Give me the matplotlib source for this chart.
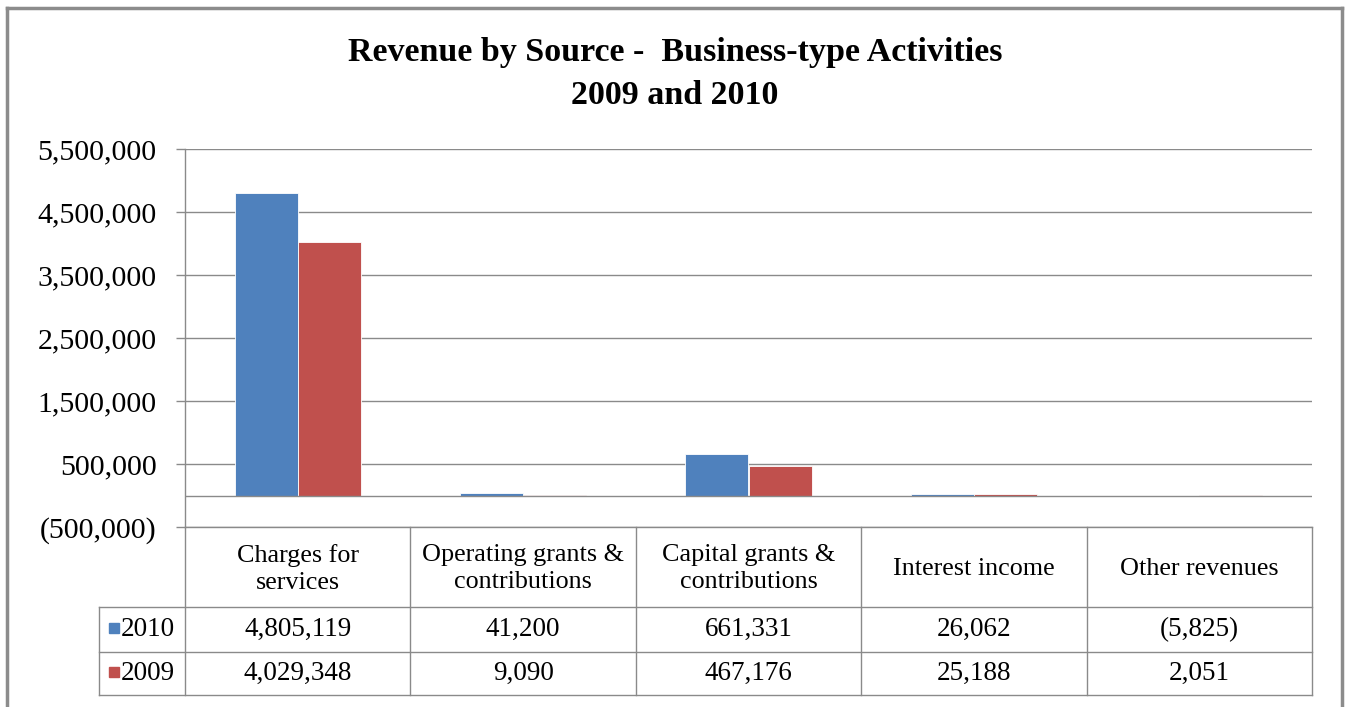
import numpy as np
import matplotlib.pyplot as plt
from matplotlib.lines import Line2D

# Revenue by source, business-type activities
categories = ['Charges for\nservices', 'Operating grants &\ncontributions',
              'Capital grants &\ncontributions', 'Interest income', 'Other revenues']
series_names = ['2010', '2009']
values_2010 = [4805119, 41200, 661331, 26062, -5825]
values_2009 = [4029348, 9090, 467176, 25188, 2051]
colors = ['#4F81BD', '#C0504D']
yticks = [-500000, 500000, 1500000, 2500000, 3500000, 4500000, 5500000]

plt.rcParams['font.family'] = ['Liberation Serif', 'DejaVu Serif']
grid_c = '#8a8a8a'

W, H = 1350, 707
fig = plt.figure(figsize=(W / 100, H / 100), dpi=100)


def fx(px):
    return px / W


def fy(py):
    return 1 - py / H


def fmt(v):
    return '({:,})'.format(-v) if v < 0 else '{:,}'.format(v)


# plot area in pixels: x 185..1312, y 149..527
ax = fig.add_axes([fx(185), fy(527), fx(1312 - 185), (527 - 149) / H])
x = np.arange(len(categories))
bw = 0.28
ax.bar(x - bw / 2, values_2010, bw, color=colors[0], edgecolor='white', linewidth=0.6)
ax.bar(x + bw / 2, values_2009, bw, color=colors[1], edgecolor='white', linewidth=0.6)
ax.set_xlim(-0.5, len(categories) - 0.5)
ax.set_ylim(-500000, 5500000)
ax.set_yticks(yticks)
ax.set_yticklabels([fmt(v) for v in yticks])
ax.set_xticks([])
ax.yaxis.grid(True, color=grid_c, linewidth=1)
ax.set_axisbelow(True)
ax.axhline(0, color=grid_c, linewidth=1, zorder=1)
ax.tick_params(axis='y', length=6.5, width=1, color=grid_c, pad=14, labelsize=21.5)
for s in ['top', 'right', 'bottom']:
    ax.spines[s].set_visible(False)
ax.spines['left'].set_color(grid_c)
ax.spines['left'].set_linewidth(1)

# data table below the plot: y 527..695 px
tab = fig.add_axes([fx(185), fy(695), fx(1312 - 185), (695 - 527) / H])
tab.set_xlim(-0.5, len(categories) - 0.5)
tab.set_ylim(0, 1)
tab.axis('off')
unit = (1312 - 185) / len(categories)
left_col = -0.5 - (185 - 99) / unit
r1 = (695 - 607) / 168
r2 = (695 - 652) / 168
kw = dict(color=grid_c, linewidth=1, clip_on=False)
for xv in np.arange(len(categories) + 1) - 0.5:
    tab.plot([xv, xv], [0, 1], **kw)
tab.plot([left_col, left_col], [0, r1], **kw)
tab.plot([-0.5, 4.5], [1, 1], **kw)
for yv in [r1, r2, 0]:
    tab.plot([left_col, 4.5], [yv, yv], **kw)

for i, c in enumerate(categories):
    tab.text(i, (1 + r1) / 2 - 0.01, c, ha='center', va='center', fontsize=18.8, linespacing=1.3)

rows = [values_2010, values_2009]
for k, (name, vals) in enumerate(zip(series_names, rows)):
    yc = (r1 + r2) / 2 if k == 0 else r2 / 2
    for i, v in enumerate(vals):
        tab.text(i, yc, fmt(v), ha='center', va='center', fontsize=19.5)
    tab.plot([-0.5 - (185 - 114) / unit], [yc + 0.01], 's', color=colors[k], markersize=7.5,
             clip_on=False)
    tab.text(-0.5 - (185 - 121) / unit, yc, name, ha='left', va='center', fontsize=19.5)

# title
fig.text(0.5, fy(52), 'Revenue by Source -  Business-type Activities', ha='center', va='center',
         fontsize=24.5, fontweight='bold')
fig.text(0.5, fy(95), '2009 and 2010', ha='center', va='center', fontsize=24.5, fontweight='bold')

# outer chart frame
frame = dict(color='#8c8c8c', linewidth=2.5)
fig.add_artist(Line2D([fx(7), fx(7)], [0, fy(8)], **frame))
fig.add_artist(Line2D([fx(1342), fx(1342)], [0, fy(8)], **frame))
fig.add_artist(Line2D([fx(7), fx(1342)], [fy(8), fy(8)], **frame))

fig.savefig('out.png', dpi=100)
